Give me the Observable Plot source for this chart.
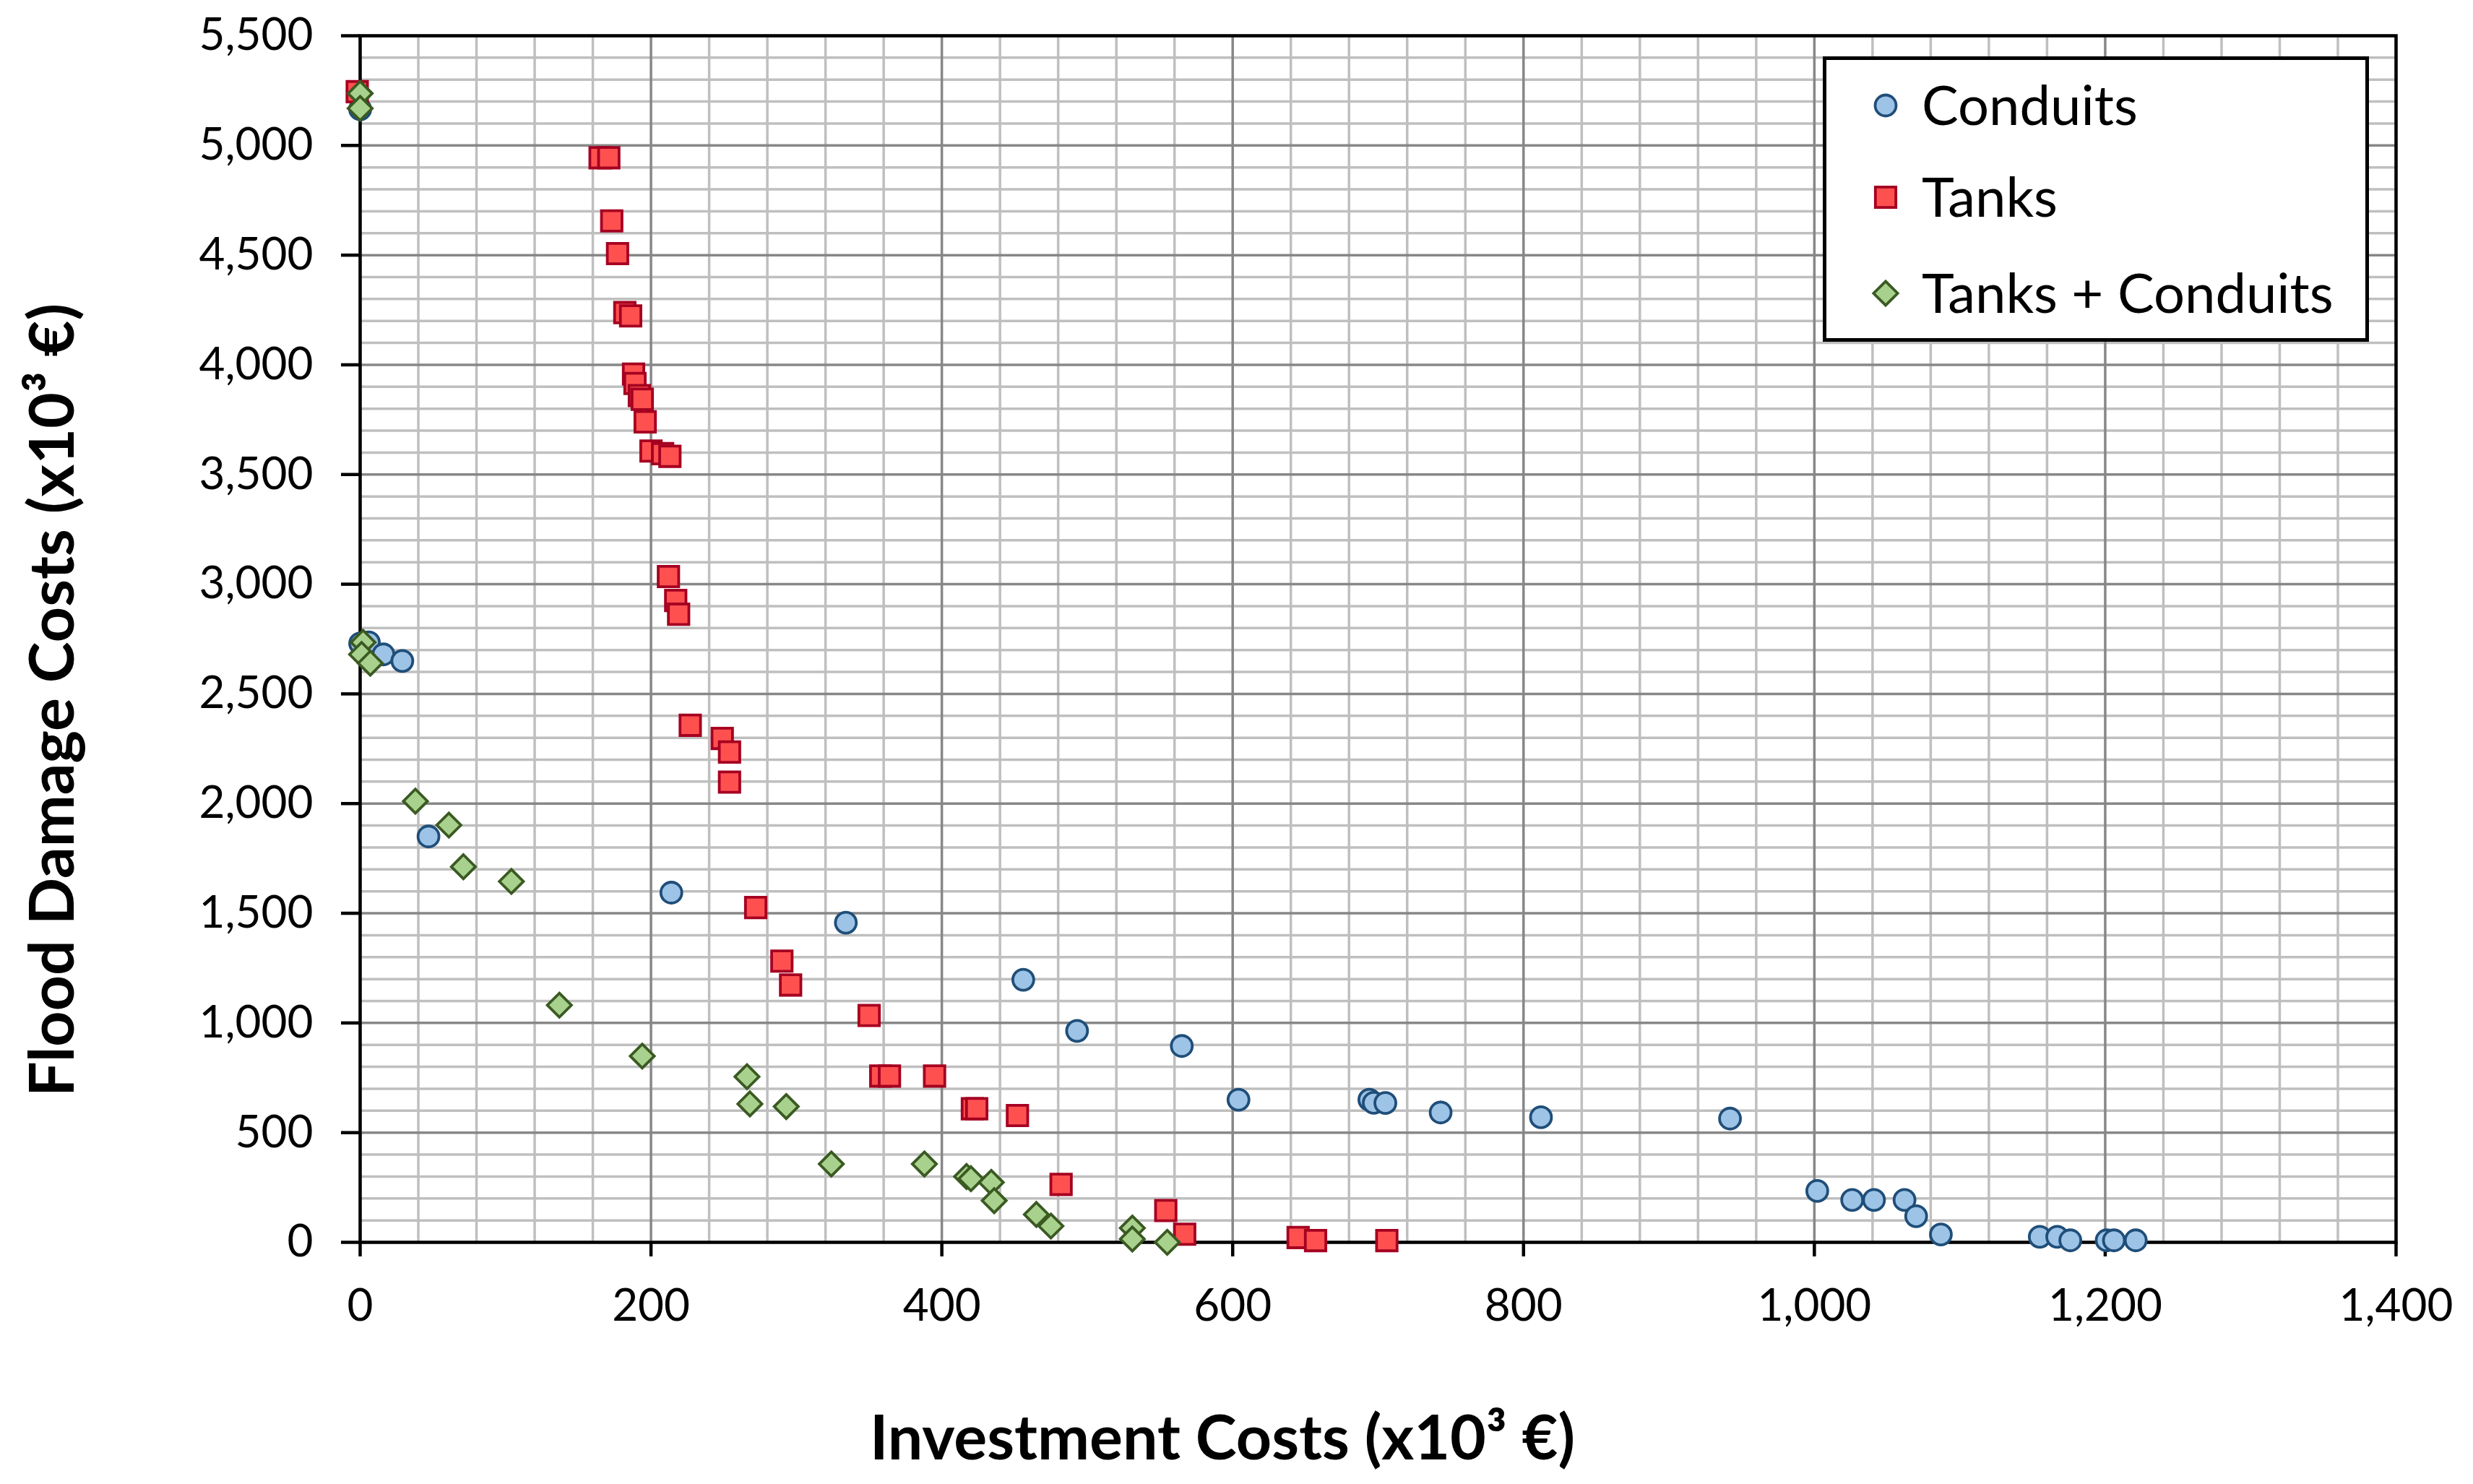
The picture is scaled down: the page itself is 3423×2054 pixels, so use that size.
<!DOCTYPE html>
<html>
<head>
<meta charset="utf-8">
<script src="https://cdn.jsdelivr.net/npm/d3@7"></script>
<script src="https://cdn.jsdelivr.net/npm/@observablehq/plot@0.6"></script>
<style>
  html, body { margin: 0; padding: 0; background: #ffffff; overflow: hidden; }
  #wrap { position: relative; width: 3423px; height: 2054px; background: #ffffff; }
  #overlay { position: absolute; left: 0; top: 0; pointer-events: none; }
</style>
</head>
<body>
<div id="wrap"></div>
<script>
// ---- Data (x = Investment Costs, y = Flood Damage Costs, both x10^3 €) ----
const conduitsX = [0, 0, 6, 16, 29, 47, 214, 334, 456, 493, 565, 604, 694, 697, 705, 743, 812, 942, 1002, 1026, 1041, 1062, 1070, 1087, 1155, 1167, 1176, 1201, 1206, 1221];
const conduitsY = [5165, 2730, 2735, 2680, 2650, 1850, 1594, 1457, 1197, 964, 895, 650, 650, 636, 635, 592, 570, 564, 234, 193, 193, 193, 119, 36, 25, 25, 9, 9, 9, 9];

const tanksX = [-2, 165, 171, 173, 177, 182, 186, 188, 189, 192, 194, 196, 200, 208, 213, 212, 217, 219, 227, 249, 254, 254, 272, 290, 296, 350, 358, 364, 395, 421, 424, 452, 482, 554, 567, 645, 657, 706];
const tanksY = [5245, 4944, 4944, 4656, 4507, 4238, 4223, 3958, 3915, 3860, 3843, 3740, 3607, 3595, 3583, 3035, 2926, 2863, 2357, 2297, 2235, 2098, 1526, 1282, 1173, 1034, 758, 758, 758, 609, 609, 578, 264, 145, 37, 22, 8, 8];

const bothX = [0, 0, 2, 1, 7, 38, 61, 71, 104, 137, 194, 266, 268, 293, 324, 388, 417, 420, 434, 436, 465, 475, 531, 531, 555];
const bothY = [5237, 5169, 2735, 2680, 2640, 2011, 1902, 1712, 1645, 1081, 849, 755, 631, 619, 357, 357, 300, 290, 273, 190, 127, 74, 65, 15, 0];

const seriesNames = ["Conduits", "Tanks", "Tanks + Conduits"];

// ---- Ticks ----
const xTicks = [0, 200, 400, 600, 800, 1000, 1200, 1400];
const yTicks = [0, 500, 1000, 1500, 2000, 2500, 3000, 3500, 4000, 4500, 5000, 5500];
const xMinorTicks = [40, 80, 120, 160, 240, 280, 320, 360, 440, 480, 520, 560, 640, 680, 720, 760, 840, 880, 920, 960, 1040, 1080, 1120, 1160, 1240, 1280, 1320, 1360];
const yMinorTicks = [100, 200, 300, 400, 600, 700, 800, 900, 1100, 1200, 1300, 1400, 1600, 1700, 1800, 1900, 2100, 2200, 2300, 2400, 2600, 2700, 2800, 2900, 3100, 3200, 3300, 3400, 3600, 3700, 3800, 3900, 4100, 4200, 4300, 4400, 4600, 4700, 4800, 4900, 5100, 5200, 5300, 5400];

const xTitle = "Investment Costs (x10³ €)";
const yTitle = "Flood Damage Costs (x10³ €)";

const toRows = (xs, ys) => xs.map((x, i) => ({x, y: ys[i]}));
const conduits = toRows(conduitsX, conduitsY);
const tanks = toRows(tanksX, tanksY);
const both = toRows(bothX, bothY);

const FONT = "Lato, 'Open Sans', 'DejaVu Sans', sans-serif";
const fmt = d3.format(",");

const styleC = {symbol: "circle", r: 14.5, fill: "#9dc3e6", stroke: "#1f4e79"};
const styleT = {symbol: "square", r: 16, fill: "#ff5050", stroke: "#a50021"};
const styleB = {symbol: "diamond2", r: 15, fill: "#a9d18e", stroke: "#3a5a22"};

const chart = Plot.plot({
  width: 3423,
  height: 2054,
  marginLeft: 498,
  marginRight: 107,
  marginTop: 49,
  marginBottom: 335,
  x: {domain: [0, 1400]},
  y: {domain: [0, 5500]},
  style: {fontFamily: FONT, fontSize: "62px", color: "#000", background: "#fff"},
  marks: [
    Plot.gridX(xMinorTicks, {stroke: "#bfbfbf", strokeOpacity: 1, strokeWidth: 3.5}),
    Plot.gridY(yMinorTicks, {stroke: "#bfbfbf", strokeOpacity: 1, strokeWidth: 3.5}),
    Plot.gridX(xTicks, {stroke: "#878787", strokeOpacity: 1, strokeWidth: 3.5}),
    Plot.gridY(yTicks, {stroke: "#878787", strokeOpacity: 1, strokeWidth: 3.5}),
    Plot.frame({stroke: "#000", strokeWidth: 4.5}),
    Plot.axisX(xTicks, {tickSize: 20, tickPadding: 44, tickFormat: fmt, label: null, strokeWidth: 4.5, fontSize: 62}),
    Plot.axisY(yTicks, {tickSize: 26, tickPadding: 39, tickFormat: fmt, label: null, strokeWidth: 4.5, fontSize: 62}),
    Plot.dot(conduits, {x: "x", y: "y", ...styleC, strokeWidth: 3.8}),
    Plot.dot(tanks, {x: "x", y: "y", ...styleT, strokeWidth: 3.8}),
    Plot.dot(both, {x: "x", y: "y", ...styleB, strokeWidth: 3.8})
  ]
});

const wrap = document.getElementById("wrap");
wrap.appendChild(chart);

// ---- Overlay: axis titles and legend ----
const ns = "http://www.w3.org/2000/svg";
const ov = document.createElementNS(ns, "svg");
ov.setAttribute("id", "overlay");
ov.setAttribute("width", 3423);
ov.setAttribute("height", 2054);

function addText(parent, str, attrs) {
  const t = document.createElementNS(ns, "text");
  for (const k in attrs) t.setAttribute(k, attrs[k]);
  t.textContent = str;
  parent.appendChild(t);
  return t;
}

addText(ov, xTitle, {x: 1692, y: 2020, "text-anchor": "middle", "font-family": FONT, "font-size": 86, "font-weight": "bold", fill: "#000"});
addText(ov, yTitle, {x: 0, y: 0, transform: "translate(102,969) rotate(-90)", "text-anchor": "middle", "font-family": FONT, "font-size": 86, "font-weight": "bold", fill: "#000"});

const lg = document.createElementNS(ns, "g");
lg.setAttribute("transform", "translate(2500,50)");
const rect = document.createElementNS(ns, "rect");
rect.setAttribute("x", 25.5); rect.setAttribute("y", 30.5);
rect.setAttribute("width", 751); rect.setAttribute("height", 390);
rect.setAttribute("fill", "#fff"); rect.setAttribute("stroke", "#000"); rect.setAttribute("stroke-width", 5);
lg.appendChild(rect);

const symbolOf = {circle: d3.symbolCircle, square: d3.symbolSquare, diamond2: d3.symbolDiamond2};
const legendItems = [
  {name: seriesNames[0], cy: 96, st: styleC},
  {name: seriesNames[1], cy: 223, st: styleT},
  {name: seriesNames[2], cy: 356, st: styleB}
];
legendItems.forEach(it => {
  const p = document.createElementNS(ns, "path");
  p.setAttribute("d", d3.symbol(symbolOf[it.st.symbol], Math.PI * it.st.r * it.st.r)());
  p.setAttribute("transform", `translate(110,${it.cy})`);
  p.setAttribute("fill", it.st.fill); p.setAttribute("stroke", it.st.stroke); p.setAttribute("stroke-width", 3.8);
  lg.appendChild(p);
  addText(lg, it.name, {x: 160, y: it.cy + 27, "font-family": FONT, "font-size": 76, fill: "#000"});
});
ov.appendChild(lg);
wrap.appendChild(ov);
</script>
</body>
</html>
